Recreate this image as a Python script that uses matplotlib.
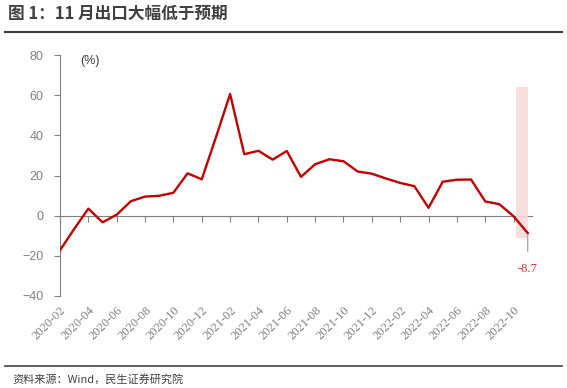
import matplotlib
matplotlib.use("Agg")
import matplotlib.pyplot as plt
import pandas as pd

plt.rcParams['font.family'] = ['Noto Sans CJK SC', 'DejaVu Sans']

months = pd.period_range("2020-02", "2022-11", freq="M").strftime("%Y-%m").tolist()
export_yoy = [-17.2, -6.6, 3.5, -3.3, 0.5, 7.2, 9.5, 9.9, 11.4, 21.1, 18.1,
              39.0, 60.6, 30.6, 32.3, 27.9, 32.2, 19.3, 25.6, 28.1, 27.1, 22.0,
              20.9, 18.5, 16.3, 14.7, 3.9, 16.9, 17.9, 18.0, 7.1, 5.7, -0.3, -8.7]
tick_labels = months[::2][:17]
highlight_y = (-11, 64)
last_label = "-8.7"

x = list(range(len(months)))

fig = plt.figure(figsize=(5.67, 3.88), dpi=100)
ax = fig.add_axes([60/567, 1-296/388, (532-60)/567, (296-55)/388])

# highlight band
ax.fill_between([x[-1] - 0.8, x[-1]], highlight_y[0], highlight_y[1],
                color='#f8d9d9', alpha=0.85, lw=0, zorder=1)

ax.plot(x, export_yoy, color='#c00000', lw=1.7, zorder=3)

ax.set_ylim(-40, 80)
ax.set_xlim(0, len(months) - 0.7)
ax.set_yticks(range(-40, 81, 20))
ax.tick_params(axis='y', direction='out', length=4, color='#808080',
               labelcolor='#808080', labelsize=9, pad=8)
for t in ax.get_yticklabels():
    t.set_family(['Liberation Sans'])

for s in ['top', 'right', 'bottom']:
    ax.spines[s].set_visible(False)
ax.spines['left'].set_color('#808080')
ax.spines['left'].set_linewidth(0.8)

# main x tick labels at bottom
ax.set_xticks(x[::2][:17])
ax.set_xticklabels(tick_labels, rotation=45, ha='right', rotation_mode='anchor',
                   family=['Liberation Serif'], fontsize=9, color='#808080')
ax.tick_params(axis='x', length=0, pad=6)

# zero axis line with ticks
loc = (0 - (-40)) / 120
sec = ax.secondary_xaxis(loc)
sec.set_xticks(x[::2][:17])
sec.set_xticklabels([])
sec.tick_params(axis='x', direction='out', length=4, color='#808080', width=0.8)
sec.spines['bottom'].set_color('#808080')
sec.spines['bottom'].set_linewidth(0.8)

ax.text(0.042, 1.0, "(%)", transform=ax.transAxes, fontsize=9,
        color='#404040', family=['Liberation Sans'], va='top')

ax.annotate(last_label, xy=(x[-1], export_yoy[-1]), xytext=(x[-1], -26.5),
            ha='center', va='center', color='#e03030', fontsize=9,
            family=['Liberation Serif'],
            arrowprops=dict(arrowstyle='-', color='#999999', lw=0.8,
                            shrinkA=6, shrinkB=1))

fig.text(8/567, 1-14/388, "图 1：11 月出口大幅低于预期", fontsize=12,
         fontweight='bold', color='#404040', va='center', ha='left')
fig.add_artist(plt.Line2D([5/567, 562/567], [1-32/388, 1-32/388],
                          color='#404040', lw=1.5))
fig.add_artist(plt.Line2D([5/567, 562/567], [1-366/388, 1-366/388],
                          color='#404040', lw=1.2))
fig.text(12/567, 1-379/388, "资料来源：Wind，民生证券研究院", fontsize=8,
         color='#404040', va='center', ha='left')

fig.savefig("out.png", dpi=100)
